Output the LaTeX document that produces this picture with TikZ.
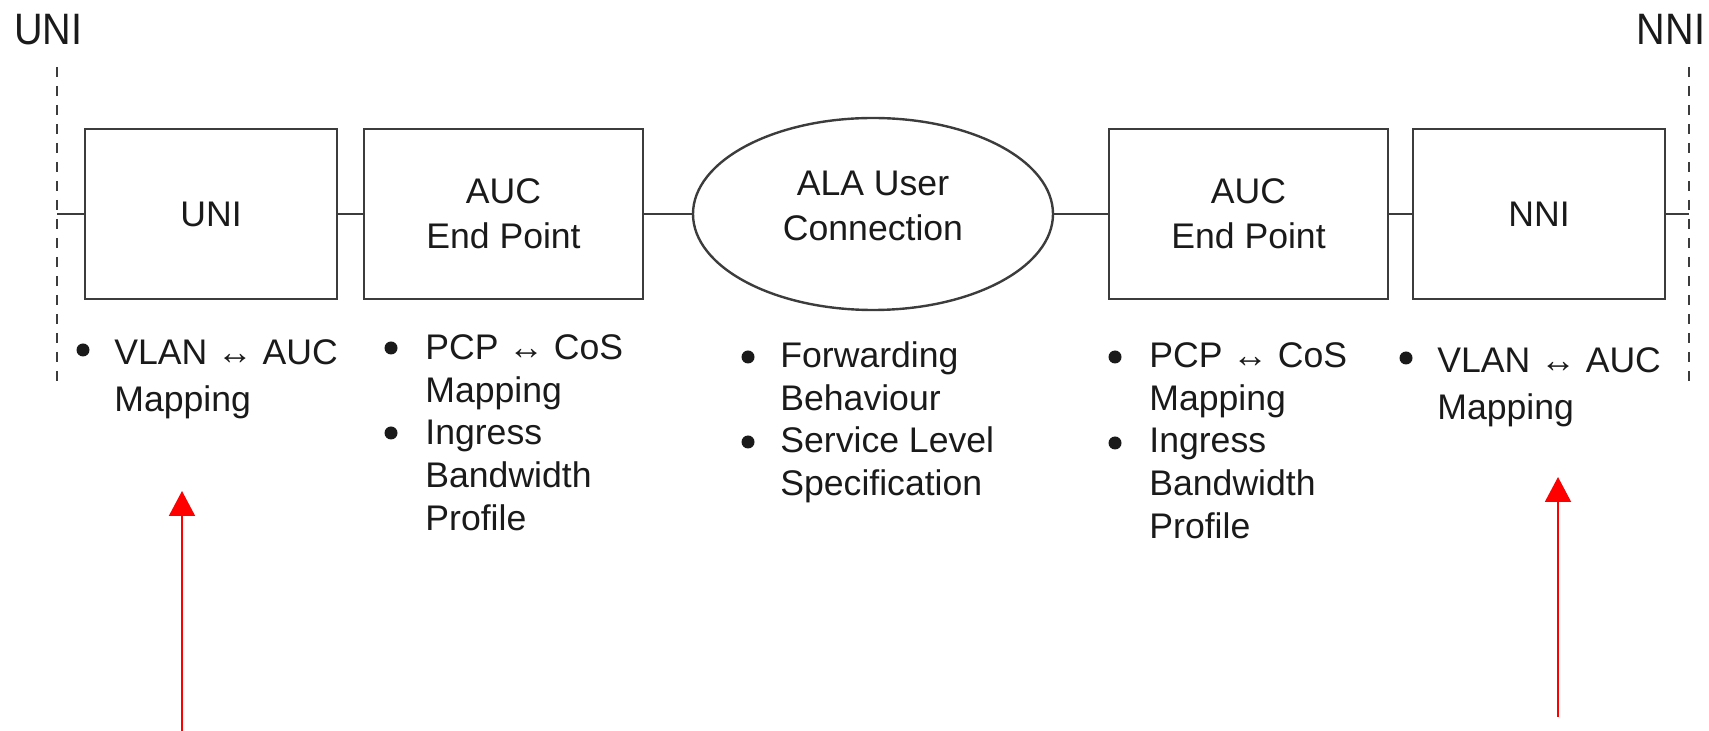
\documentclass[tikz,border=0pt]{standalone}
\usepackage{fontspec}
\setmainfont{Liberation Sans}
\newfontfamily\labfont[FakeStretch=0.9]{Liberation Sans}
\usetikzlibrary{shapes.geometric,arrows.meta}
\definecolor{linegray}{HTML}{3C3C3C}
\definecolor{txtc}{HTML}{1A1A1A}
\definecolor{arrred}{HTML}{FF0000}
\newcommand\boxfont{\fontsize{17.8pt}{22.5pt}\selectfont}
\newcommand\listfont{\fontsize{17.8pt}{21.5pt}\selectfont}
\newcommand\listfontwide{\fontsize{17.8pt}{23.5pt}\selectfont}
\newcommand\lines[1]{\begin{tabular}[t]{@{}l@{}}#1\end{tabular}}
\begin{document}
\begin{tikzpicture}[x=0.5pt,y=-0.5pt,
  blockbox/.style={draw=linegray,line width=1.35pt,rectangle,minimum height=85pt,
    inner sep=0pt,align=center,font=\boxfont,text=txtc},
  ellbox/.style={draw=linegray,line width=1.2pt,ellipse,minimum width=180pt,
    minimum height=96pt,inner sep=0pt},
  conn/.style={draw=linegray,line width=1.35pt},
  boundary/.style={draw=linegray,line width=1pt,dash pattern=on 5pt off 4.5pt},
  toplabel/.style={font=\labfont\fontsize{22pt}{26pt}\selectfont,text=txtc,inner sep=0pt,anchor=base},
  itemtext/.style={font=\listfont,text=txtc,inner sep=0pt,anchor=base west},
  itemtextwide/.style={font=\listfontwide,text=txtc,inner sep=0pt,anchor=base west},
  bulletdot/.style={circle,fill=txtc,draw=none,minimum size=6.5pt,inner sep=0pt},
  redarrow/.style={draw=arrred,line width=1pt,-{Triangle[width=13pt,length=12.5pt]},fill=arrred},
  plaintext/.style={align=center,font=\boxfont,text=txtc,inner sep=0pt}
]
\useasboundingbox (0,0) rectangle (1709,731);

% top labels
\node[toplabel] (unilab) at (48.5,45) {UNI};
\node[toplabel] (nnilab) at (1671,45) {NNI};

% boundaries
\coordinate (ltop) at (57,67);
\coordinate (lbot) at (57,384);
\coordinate (lmid) at (57,214);
\coordinate (rtop) at (1689,67);
\coordinate (rbot) at (1689,384);
\coordinate (rmid) at (1689,214);
\draw[boundary] (ltop) -- (lbot);
\draw[boundary] (rtop) -- (rbot);

% blocks
\node[blockbox,minimum width=126pt] (uni) at (211,214) {UNI};
\node[blockbox,minimum width=139.5pt] (auc1) at (503.5,214) {AUC\\End Point};
\node[ellbox] (ala) at (873,214) {};
\node[plaintext] (alatext) at (873,206) {ALA User\\Connection};
\node[blockbox,minimum width=139.5pt] (auc2) at (1248.5,214) {AUC\\End Point};
\node[blockbox,minimum width=126pt] (nni) at (1539,214) {NNI};

% connectors
\draw[conn] (lmid) -- (uni.west);
\draw[conn] (uni.east) -- (auc1.west);
\draw[conn] (auc1.east) -- (ala.west);
\draw[conn] (ala.east) -- (auc2.west);
\draw[conn] (auc2.east) -- (nni.west);
\draw[conn] (nni.east) -- (rmid);

% bullet lists
\node[bulletdot] (b11) at (83,350) {};
\node[itemtextwide] (t11) at (114,365) {\lines{VLAN ↔ AUC\\Mapping}};

\node[bulletdot] (b21) at (391,348) {};
\node[itemtext] (t21) at (425,360) {\lines{PCP ↔ CoS\\Mapping}};
\node[bulletdot] (b22) at (391,433) {};
\node[itemtext] (t22) at (425,445) {\lines{Ingress\\Bandwidth\\Profile}};

\node[bulletdot] (b31) at (748,357) {};
\node[itemtext] (t31) at (780,368) {\lines{Forwarding\\Behaviour}};
\node[bulletdot] (b32) at (748,442) {};
\node[itemtext] (t32) at (780,453) {\lines{Service Level\\Specification}};

\node[bulletdot] (b41) at (1115,357) {};
\node[itemtext] (t41) at (1149,368) {\lines{PCP ↔ CoS\\Mapping}};
\node[bulletdot] (b42) at (1115,443) {};
\node[itemtext] (t42) at (1149,453) {\lines{Ingress\\Bandwidth\\Profile}};

\node[bulletdot] (b51) at (1406,358) {};
\node[itemtextwide] (t51) at (1437,373) {\lines{VLAN ↔ AUC\\Mapping}};

% red arrows
\coordinate (la0) at (182,731);
\coordinate (la1) at (182,491);
\coordinate (ra0) at (1558,717);
\coordinate (ra1) at (1558,477);
\draw[redarrow] (la0) -- (la1);
\draw[redarrow] (ra0) -- (ra1);
\end{tikzpicture}
\end{document}
